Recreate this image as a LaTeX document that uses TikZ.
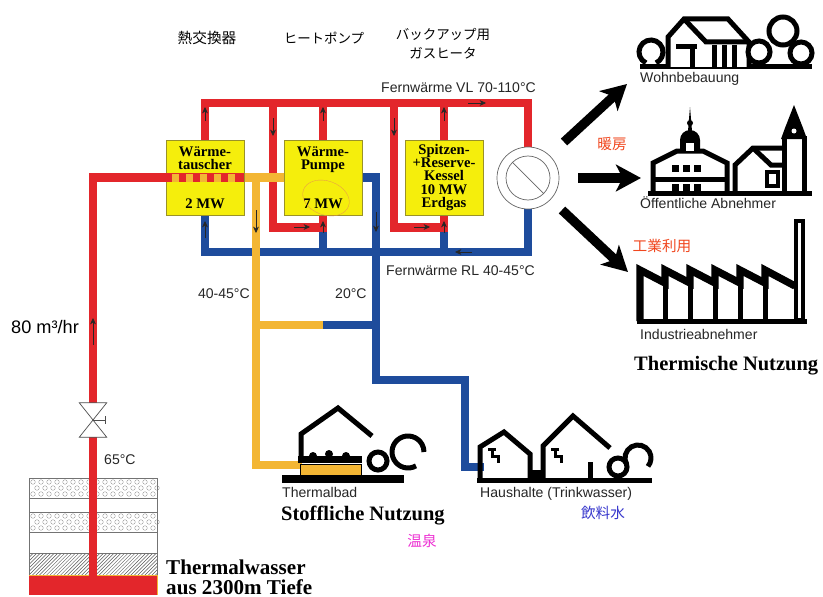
\documentclass[tikz,border=0pt]{standalone}
\usepackage{fontspec}
\setmainfont{Liberation Sans}
\newfontfamily\timesbold{Liberation Serif}
\newfontfamily\jpfont{Noto Sans CJK JP}
\usetikzlibrary{arrows.meta, positioning, calc, patterns, backgrounds}
\definecolor{pipeRed}{HTML}{E3262B}
\definecolor{pipeBlue}{HTML}{1E4C9C}
\definecolor{pipeOrange}{HTML}{F3B634}
\definecolor{boxYellow}{HTML}{F5EE0C}
\definecolor{boxEdge}{HTML}{9A9228}
\definecolor{labelRed}{HTML}{F0461E}
\definecolor{labelMagenta}{HTML}{EC2FD2}
\definecolor{labelBlue}{HTML}{3737CC}
\tikzset{
  pipe/.style={draw=#1, line width=2.6mm, line join=miter},
  unitbox/.style={draw=boxEdge, line width=0.6pt, fill=boxYellow, minimum width=23.4mm,
                  minimum height=22.5mm, inner sep=0pt, align=center,
                  font=\timesbold\bfseries\fontsize{12.5}{11.5}\selectfont},
  flow/.style={-{Stealth[length=5.5pt, width=5pt]}, line width=0.5pt, draw=black!85},
  bigarrow/.style={-{Stealth[length=7.5mm, width=8mm, inset=2mm]}, line width=2.8mm},
  icon/.style={line width=1.5mm, line join=miter},
  lbl/.style={font=\fontsize{12}{14}\selectfont, inner sep=0pt, anchor=base west, text=black!85},
  jp/.style={font=\jpfont\fontsize{12.5}{15}\selectfont, inner sep=0pt},
  heading/.style={font=\timesbold\bfseries\fontsize{17.5}{20}\selectfont, inner sep=0pt, anchor=base west},
}

\begin{document}
\begin{tikzpicture}[x=0.3mm, y=-0.3mm]
\useasboundingbox (0,0) rectangle (823,597);

\node[unitbox] (hx) at (205,177.5) {Wärme-\\tauscher\\[21pt]2 MW};
\node[unitbox] (hp) at (323,177.5) {Wärme-\\Pumpe\\[21pt]7 MW};
\node[unitbox] (kessel) at (444,177.5) {Spitzen-\\+Reserve-\\Kessel\\10 MW\\Erdgas};
\node[circle, draw=black!60, fill=white, line width=0.6pt, minimum size=18.6mm, inner sep=0pt] (dist) at (528,178) {};
\node[circle, draw=black!60, line width=0.6pt, minimum size=13.2mm, inner sep=0pt] (distin) at (dist) {};
\draw[black!60, line width=0.6pt] (distin.north west) -- (distin.south east);
\node[minimum width=8.1mm, minimum height=10.2mm, inner sep=0pt] (valve) at (93,420) {};

\coordinate (vl) at (528,103);
\coordinate (rl) at (528,252);
\coordinate (j1) at (273,103);
\coordinate (j2) at (394,103);
\coordinate (well) at (93,580);
\coordinate (tee) at ($(hx.east)!0.3!(hp.west)$);
\coordinate (mixL) at (256,325);
\coordinate (mixM) at (323,325);
\coordinate (mixR) at (376,325);
\coordinate (bath) at (302,465);
\coordinate (house) at (484,467);

\begin{scope}[on background layer]
  % reservoir layers
  \draw[black!55, line width=0.4pt] (29,478) rectangle (157,498);
  \draw[black!55, line width=0.4pt] (29,498) rectangle (157,512);
  \draw[black!55, line width=0.4pt] (29,512) rectangle (157,532);
  \draw[black!55, line width=0.4pt] (29,532) rectangle (157,553);
  \draw[black!55, line width=0.4pt, pattern=north east lines, pattern color=black!65] (29,553) rectangle (157,575);
  \fill[pipeRed] (29,575) rectangle (157,595);
  \draw[pipeOrange, line width=0.6pt] (29,575) -- (157,575) -- (157,595);
  \foreach \gy in {478,512}
    \foreach \i in {0,...,15}
      \foreach \j in {0,1,2}
        \draw[black!45, line width=0.3pt] ({33+8*\i+mod(\j,2)*4}, {\gy+4+6*\j}) circle[radius=2.3];

  \draw[pipe=pipeBlue] (dist.south) -- (rl) -| (hx.south);
  \draw[pipe=pipeBlue] (hp.south) -- (hp.south |- rl);
  \draw[pipe=pipeBlue] (kessel.south) -- (kessel.south |- rl);
  \draw[pipe=pipeBlue] (hp.east) -| (376,380) -- (465,380) |- (house);
  \draw[pipe=pipeBlue] (mixM) -- (mixR);
  \draw[pipe=pipeRed] (hx.north) |- (vl) -- (dist.north);
  \draw[pipe=pipeRed] (hp.north) -- (hp.north |- vl);
  \draw[pipe=pipeRed] (kessel.north) -- (kessel.north |- vl);
  \draw[pipe=pipeRed] (j1) |- ([yshift=-3.6mm]hp.south) -- (hp.south);
  \draw[pipe=pipeRed] (j2) |- ([yshift=-3.6mm]kessel.south) -- (kessel.south);
  \draw[pipe=pipeRed] (well) -- (valve.south);
  \draw[pipe=pipeRed] (valve.north) |- (hx.west);
  \draw[pipe=pipeOrange] (hx.east) -- (hp.west);
  \draw[pipe=pipeOrange] (tee) |- (bath);
  \draw[pipe=pipeOrange] (mixL) -- (mixM);
\end{scope}

% pipe through the heat exchanger
\draw[pipe=pipeRed] (hx.west) -- (hx.east);
\foreach \sx in {172,186,200,214,228}
  \fill[pipeOrange] (\sx,173.5) rectangle ++(7,8);
\draw[orange!55!brown!80, line width=0.3pt, rotate around={-20:(326,198)}] (326,198) ellipse [x radius=24, y radius=17];

% valve
\draw[black!70, fill=white, line width=0.6pt] (valve.north west) -- (valve.north east) -- (valve.center) -- cycle;
\draw[black!70, fill=white, line width=0.6pt] (valve.south west) -- (valve.south east) -- (valve.center) -- cycle;
\draw[black!70, line width=0.6pt] (valve.center) -- ++(12,0) ++(0,-4) -- ++(0,8);

% flow markers
\draw[flow] (205,121) -- (205,107);
\draw[flow] (273,118) -- (273,136);
\draw[flow] (323,121) -- (323,107);
\draw[flow] (394,118) -- (394,136);
\draw[flow] (444,121) -- (444,107);
\draw[flow] (468,103) -- (486,103);
\draw[flow] (294,227) -- (310,227);
\draw[flow] (414,227) -- (430,227);
\draw[flow] (323,233) -- (323,221);
\draw[flow] (444,233) -- (444,221);
\draw[flow] (472,252) -- (455,252);
\draw[flow] (205,238) -- (205,221);
\draw[flow] (256,210) -- (256,233);
\draw[flow] (376,212) -- (376,232);
\draw[flow] (93,345) -- (93,318);

% outgoing heat
\coordinate (tipw) at (627,84);
\coordinate (tipo) at (641,178);
\coordinate (tipi) at (628,272);
\draw[bigarrow] ($(dist)+(36,-36)$) -- (tipw);
\draw[bigarrow] ($(dist)+(50,0)$) -- (tipo);
\draw[bigarrow] ($(dist)+(34,32)$) -- (tipi);

% Wohnbebauung
\draw[icon] (640,67) -- (812,67);
\draw[icon] (651,52) ++(115:12) arc[start angle=115, end angle=425, radius=12];
\draw[icon, fill=white] (668,67) -- (668,37) -- (684,19) -- (728,19) -- (749,42) -- (749,67);
\draw[icon] (684,19) -- (706,42) -- (749,42);
\draw[icon] (676,47) -- (697,47);
\draw[icon] (692,47) -- (692,67);
\foreach \cx in {714,724,734} \draw[icon] (\cx,45) -- (\cx,67);
\draw[icon, fill=white] (783,31) circle[radius=14];
\draw[icon, fill=white] (759,52) circle[radius=11];
\draw[icon, fill=white] (801,53) circle[radius=11];

% Oeffentliche Abnehmer
\draw[icon] (648,193) -- (812,193);
\draw[icon] (653,193) -- (653,163) -- (677,151) -- (703,151) -- (727,163) -- (727,193);
\draw[icon] (653,179) -- (727,179);
\foreach \wx in {672,683,694} {
  \fill (\wx,165) rectangle ++(7,7);
  \fill (\wx,184) rectangle ++(7,7);
}
\fill (680,152) -- (680,140) arc[start angle=180, end angle=360, radius=10] -- (700,152) -- cycle;
\fill[white] (686,151) rectangle (694,143);
\fill (688,131) -- (690,107) -- (692,131) -- cycle;
\fill (690,123) circle[radius=3];
\draw[icon] (735,193) -- (735,165) -- (753,148) -- (782,148);
\draw[icon] (753,148) -- (771,165) -- (782,165);
\draw[line width=1mm] (767,172) rectangle (778,186);
\draw[icon] (784,136) -- (784,193);
\draw[icon] (804,136) -- (804,193);
\fill (781,139) -- (785,128) -- (794,105) -- (803,128) -- (807,139) -- cycle;
\fill[white] (794,131) circle[radius=2.5];

% Industrieabnehmer
\draw[line width=2.2mm, line join=miter] (640,321) -- (640,270) -- (665,283) -- (665,270) -- (690,283) -- (690,270)
  -- (715,283) -- (715,270) -- (740,283) -- (740,270) -- (765,283) -- (765,270) -- (795,286);
\foreach \dx in {665,690,715,740,765} \draw[icon] (\dx,280) -- (\dx,321);
\draw[icon] (637,321) -- (807,321);
\draw[line width=1.2mm] (796,221) rectangle (803,320);

% Thermalbad
\draw[icon] (301,460) -- (301,434) -- (338,408) -- (372,436);
\fill (298,456) rectangle (362,463);
\fill (313,456) circle[radius=4];
\fill (329,454) circle[radius=4];
\fill (346,456) circle[radius=4];
\draw[black, line width=0.8pt, fill=pipeOrange] (300,464) rectangle (361,475);
\fill (282,475) rectangle (404,483);
\draw[icon, fill=white] (378,461) circle[radius=9];
\draw[icon] (408,452) ++(60:16) arc[start angle=60, end angle=360, radius=16];

% Haushalte
\draw[icon] (477,480) -- (652,480);
\draw[icon] (480,482) -- (480,447) -- (504,432) -- (530,454) -- (530,482);
\fill (530,470) rectangle (543,482);
\draw[icon] (543,482) -- (543,446) -- (573,416) -- (610,448);
\foreach \tx in {488,551} {
  \draw[line width=0.9mm] (\tx,449) -- (\tx+8,449);
  \draw[line width=0.9mm] (\tx+4,449) -- (\tx+4,456) -- (\tx+10,456) -- (\tx+10,463);
}
\draw[icon] (590,462) -- (590,482);
\draw[icon, fill=white] (618,467) circle[radius=9];
\draw[icon] (638,458) ++(150:13) arc[start angle=150, end angle=400, radius=13];

% labels
\node[lbl] (vltext) at (381,93) {Fernwärme VL 70-110°C};
\node[lbl] (rltext) at (386,275) {Fernwärme RL 40-45°C};
\node[lbl, anchor=base east] (t4045) at (250,298) {40-45°C};
\node[lbl] (t20) at (335,298) {20°C};
\node[lbl] (t65) at (104,464) {65°C};
\node[lbl, font=\fontsize{15.5}{17}\selectfont, text=black] (rate) at (11,333) {80 m³/hr};
\node[lbl] (wohn) at (640,83) {Wohnbebauung};
\node[lbl] (oeff) at (640,208) {Öffentliche Abnehmer};
\node[lbl] (ind) at (640,339) {Industrieabnehmer};
\node[lbl] (bad) at (282,497) {Thermalbad};
\node[lbl] (haus) at (480,497) {Haushalte (Trinkwasser)};
\node[heading] (thn) at (634,370) {Thermische Nutzung};
\node[heading] (stn) at (281,520) {Stoffliche Nutzung};
\node[heading, font=\timesbold\bfseries\fontsize{18}{20}\selectfont] (tw1) at (166,574) {Thermalwasser};
\node[heading, font=\timesbold\bfseries\fontsize{18}{20}\selectfont] (tw2) at (166,594) {aus 2300m Tiefe};

\node[jp] (jhx) at (207,38) {熱交換器};
\node[jp, font=\jpfont\fontsize{11.5}{15}\selectfont] (jhp) at (324,38) {ヒートポンプ};
\node[jp, font=\jpfont\fontsize{11.5}{16}\selectfont, align=center] (jks) at (443,44) {バックアップ用\\ガスヒータ};
\node[jp, text=labelRed] (jheat) at (612,144) {暖房};
\node[jp, text=labelRed] (jind) at (662,246) {工業利用};
\node[jp, text=labelMagenta] (jbath) at (422,541) {温泉};
\node[jp, text=labelBlue] (jdrink) at (603,513) {飲料水};
\end{tikzpicture}
\end{document}
